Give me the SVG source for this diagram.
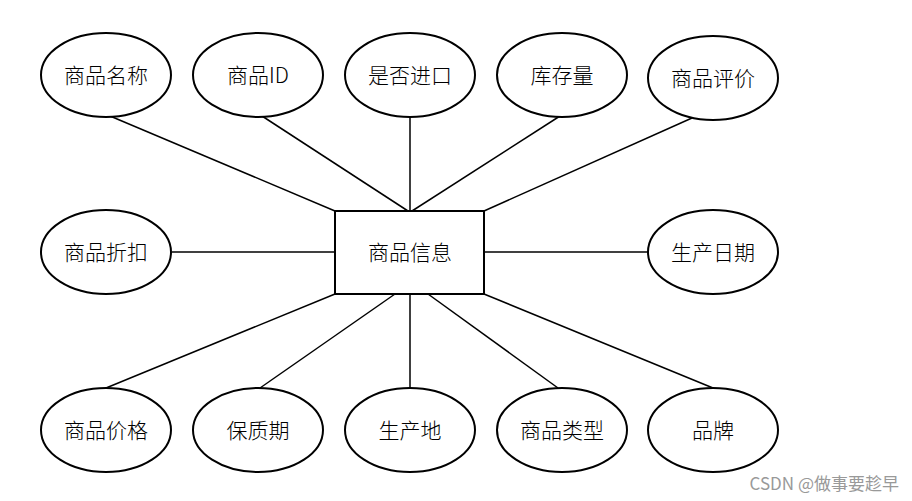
<svg xmlns="http://www.w3.org/2000/svg" width="912" height="501" viewBox="0 0 912 501">
<style>
.n ellipse,.n rect{fill:#fff;stroke:#000;stroke-width:2}
.n text{font-family:"Noto Sans CJK SC","Noto Sans",sans-serif;font-size:21px;font-weight:300;text-anchor:middle;dominant-baseline:central;fill:#000}
#edges line{stroke:#000;stroke-width:1.5}
</style>
<rect width="912" height="501" fill="#fff"/>
<g id="edges">
<line x1="110" y1="116" x2="335" y2="211"/>
<line x1="262" y1="116" x2="408" y2="211"/>
<line x1="410" y1="117" x2="410" y2="211"/>
<line x1="560" y1="116" x2="412" y2="211"/>
<line x1="692" y1="118" x2="484" y2="211"/>
<line x1="172" y1="252" x2="335" y2="252"/>
<line x1="484" y1="252" x2="648" y2="252"/>
<line x1="106" y1="388" x2="335" y2="294"/>
<line x1="260" y1="388" x2="395" y2="294"/>
<line x1="410" y1="388" x2="410" y2="294"/>
<line x1="558" y1="388" x2="428" y2="294"/>
<line x1="713" y1="388" x2="484" y2="294"/>
</g>
<g id="n0" class="n"><rect x="335" y="211" width="149" height="83"/><text x="410" y="251">商品信息</text></g>
<g id="n1" class="n"><ellipse cx="106" cy="75" rx="65" ry="42"/><text x="106" y="74">商品名称</text></g>
<g id="n2" class="n"><ellipse cx="258" cy="75" rx="65" ry="42"/><text x="258" y="74">商品ID</text></g>
<g id="n3" class="n"><ellipse cx="410" cy="75" rx="65" ry="42"/><text x="410" y="74">是否进口</text></g>
<g id="n4" class="n"><ellipse cx="562" cy="75" rx="65" ry="42"/><text x="562" y="74">库存量</text></g>
<g id="n5" class="n"><ellipse cx="713" cy="78" rx="65" ry="42"/><text x="713" y="77">商品评价</text></g>
<g id="n6" class="n"><ellipse cx="106" cy="252" rx="65" ry="42"/><text x="106" y="251">商品折扣</text></g>
<g id="n7" class="n"><ellipse cx="713" cy="252" rx="65" ry="42"/><text x="713" y="251">生产日期</text></g>
<g id="n8" class="n"><ellipse cx="106" cy="430" rx="65" ry="42"/><text x="106" y="429">商品价格</text></g>
<g id="n9" class="n"><ellipse cx="258" cy="430" rx="65" ry="42"/><text x="258" y="429">保质期</text></g>
<g id="n10" class="n"><ellipse cx="410" cy="430" rx="65" ry="42"/><text x="410" y="429">生产地</text></g>
<g id="n11" class="n"><ellipse cx="562" cy="430" rx="65" ry="42"/><text x="562" y="429">商品类型</text></g>
<g id="n12" class="n"><ellipse cx="713" cy="430" rx="65" ry="42"/><text x="713" y="429">品牌</text></g>
<text x="899" y="490" font-family="Noto Sans CJK SC,sans-serif" font-size="17" fill="#999" text-anchor="end">CSDN @做事要趁早</text>
</svg>
